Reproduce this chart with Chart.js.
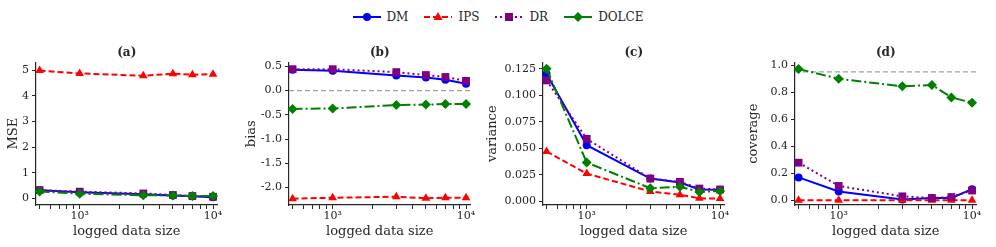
<!DOCTYPE html>
<html>
<head>
<meta charset="utf-8">
<script src="https://cdn.jsdelivr.net/npm/chart.js@4.4.0/dist/chart.umd.min.js"></script>
<style>
    body {
        margin: 0;
        width: 996px;
        height: 247px;
        overflow: hidden;
        background: #fff;
        position: relative;
        font-family: 'DejaVu Serif', serif;
    }
    .panel { position: absolute; top: 40px; }
    #legend {
        position: absolute;
        top: 9px;
        left: 0;
        width: 996px;
        display: flex;
        justify-content: center;
        font-size: 12px;
        line-height: 16px;
        color: #262626;
    }
    #legend .item { display: flex; align-items: center; margin: 0 8px; }
    #legend svg { margin-right: 6px; }
</style>
</head>
<body>
<div id="legend"></div>
<canvas id="chartA" class="panel"></canvas>
<canvas id="chartB" class="panel"></canvas>
<canvas id="chartC" class="panel"></canvas>
<canvas id="chartD" class="panel"></canvas>
<script>
// logged data sizes (x)
const sizes = [500, 1000, 3000, 5000, 7000, 10000];
const methods = ['DM', 'IPS', 'DR', 'DOLCE'];

// (a) MSE
const mseDM = [0.32, 0.25, 0.17, 0.12, 0.09, 0.05];
const mseIPS = [4.98, 4.87, 4.78, 4.86, 4.82, 4.84];
const mseDR = [0.33, 0.27, 0.20, 0.14, 0.10, 0.07];
const mseDOLCE = [0.28, 0.19, 0.13, 0.12, 0.10, 0.10];

// (b) bias
const biasDM = [0.43, 0.41, 0.31, 0.27, 0.22, 0.14];
const biasIPS = [-2.23, -2.21, -2.19, -2.22, -2.21, -2.21];
const biasDR = [0.44, 0.44, 0.38, 0.32, 0.28, 0.20];
const biasDOLCE = [-0.38, -0.37, -0.30, -0.29, -0.28, -0.28];

// (c) variance
const varDM = [0.120, 0.053, 0.0216, 0.0179, 0.0113, 0.0110];
const varIPS = [0.047, 0.0263, 0.0094, 0.0063, 0.0030, 0.0028];
const varDR = [0.114, 0.059, 0.0216, 0.0185, 0.0122, 0.0113];
const varDOLCE = [0.125, 0.0367, 0.0125, 0.0138, 0.0090, 0.0100];

// (d) coverage
const covDM = [0.169, 0.065, 0.005, 0.017, 0.017, 0.082];
const covIPS = [0, 0, 0, 0, 0, 0];
const covDR = [0.278, 0.106, 0.029, 0.017, 0.024, 0.072];
const covDOLCE = [0.971, 0.899, 0.843, 0.853, 0.761, 0.722];

// tick values / labels
const mseTicks = [0, 1, 2, 3, 4, 5];
const biasTicks = [-2.0, -1.5, -1.0, -0.5, 0.0, 0.5];
const varTicks = [0, 0.025, 0.05, 0.075, 0.1, 0.125];
const covTicks = [0, 0.2, 0.4, 0.6, 0.8, 1.0];
const xMajorTicks = [1000, 10000];
const xMajorLabels = ['10³', '10⁴'];
const xMinorTicks = [500, 600, 700, 800, 900, 2000, 3000, 4000, 5000, 6000, 7000, 8000, 9000];

const FONT = "'DejaVu Serif', serif";
const INK = '#262626';

const styles = [
    { color: '#0000ff', dash: [], point: 'circle', radius: 4 },
    { color: '#ff0000', dash: [6, 3], point: 'triangle', radius: 5 },
    { color: '#800080', dash: [2, 3], point: 'rect', radius: 5.5 },
    { color: '#008000', dash: [10, 3, 2, 3], point: 'rectRot', radius: 5 }
];

const panels = [
    { id: 'chartA', title: '(a)', label: 'MSE', series: [mseDM, mseIPS, mseDR, mseDOLCE],
      ticks: mseTicks, dec: 0, min: -0.25, max: 5.3, ref: null, left: 36, yw: 30 },
    { id: 'chartB', title: '(b)', label: 'bias', series: [biasDM, biasIPS, biasDR, biasDOLCE],
      ticks: biasTicks, dec: 1, min: -2.36, max: 0.58, ref: 0, left: 289, yw: 45 },
    { id: 'chartC', title: '(c)', label: 'variance', series: [varDM, varIPS, varDR, varDOLCE],
      ticks: varTicks, dec: 3, min: -0.0033, max: 0.131, ref: null, left: 543, yw: 58 },
    { id: 'chartD', title: '(d)', label: 'coverage', series: [covDM, covIPS, covDR, covDOLCE],
      ticks: covTicks, dec: 1, min: -0.035, max: 1.02, ref: 0.95, left: 795, yw: 49 }
];

const PLOT_W = 187;
const PANEL_H = 207;

// dashed gray reference line
const refLinePlugin = {
    id: 'refLine',
    beforeDatasetsDraw(chart, args, opts) {
        if (opts.value === null || opts.value === undefined) return;
        const { ctx, chartArea, scales } = chart;
        const y = scales.y.getPixelForValue(opts.value);
        ctx.save();
        ctx.strokeStyle = '#a0a0a0';
        ctx.lineWidth = 1.2;
        ctx.setLineDash([5, 3]);
        ctx.beginPath();
        ctx.moveTo(chartArea.left, y);
        ctx.lineTo(chartArea.right, y);
        ctx.stroke();
        ctx.restore();
    }
};

function buildLegend() {
    const legend = document.getElementById('legend');
    methods.forEach((name, i) => {
        const s = styles[i];
        const item = document.createElement('span');
        item.className = 'item';
        const cx = 14, cy = 8;
        let marker;
        if (s.point === 'circle') {
            marker = `<circle cx="${cx}" cy="${cy}" r="4" fill="${s.color}"/>`;
        } else if (s.point === 'triangle') {
            marker = `<polygon points="${cx},${cy - 5} ${cx + 4.5},${cy + 3} ${cx - 4.5},${cy + 3}" fill="${s.color}"/>`;
        } else if (s.point === 'rect') {
            marker = `<rect x="${cx - 4}" y="${cy - 4}" width="8" height="8" fill="${s.color}"/>`;
        } else {
            marker = `<polygon points="${cx},${cy - 5} ${cx + 5},${cy} ${cx},${cy + 5} ${cx - 5},${cy}" fill="${s.color}"/>`;
        }
        item.innerHTML =
            `<svg width="28" height="16"><line x1="0" y1="${cy}" x2="28" y2="${cy}" stroke="${s.color}" stroke-width="2" stroke-dasharray="${s.dash.join(' ')}"/>${marker}</svg><span>${name}</span>`;
        legend.appendChild(item);
    });
}

function createPanel(p) {
    const canvas = document.getElementById(p.id);
    canvas.width = p.yw + PLOT_W;
    canvas.height = PANEL_H;
    canvas.style.left = (p.left - p.yw) + 'px';

    const datasets = p.series.map((vals, i) => ({
        label: methods[i],
        data: sizes.map((x, j) => ({ x: x, y: vals[j] })),
        borderColor: styles[i].color,
        backgroundColor: styles[i].color,
        borderWidth: 2,
        borderDash: styles[i].dash,
        pointStyle: styles[i].point,
        pointRadius: styles[i].radius,
        pointBorderWidth: 0,
        tension: 0,
        clip: false,
        order: 3 - i
    }));

    return new Chart(canvas.getContext('2d'), {
        type: 'line',
        data: { datasets },
        options: {
            responsive: false,
            animation: false,
            devicePixelRatio: 1,
            layout: { padding: 0 },
            plugins: {
                legend: { display: false },
                tooltip: { enabled: false },
                title: {
                    display: true,
                    text: p.title,
                    fullSize: false,
                    color: INK,
                    font: { family: FONT, size: 12, weight: 'bold' },
                    padding: { top: 6, bottom: 2 }
                },
                refLine: { value: p.ref }
            },
            scales: {
                x: {
                    type: 'logarithmic',
                    min: 470,
                    max: 10800,
                    afterBuildTicks: scale => {
                        scale.ticks = xMinorTicks.concat(xMajorTicks)
                            .sort((a, b) => a - b)
                            .map(v => ({ value: v }));
                    },
                    afterFit: scale => {
                        scale.height = 42;
                        scale.paddingLeft = 0;
                        scale.paddingRight = 0;
                    },
                    ticks: {
                        autoSkip: false,
                        maxRotation: 0,
                        padding: 1,
                        color: INK,
                        font: { family: FONT, size: 11 },
                        callback: value => {
                            const k = xMajorTicks.indexOf(value);
                            return k >= 0 ? xMajorLabels[k] : '';
                        }
                    },
                    grid: {
                        drawOnChartArea: false,
                        drawTicks: true,
                        tickLength: 4,
                        tickColor: INK,
                        tickWidth: 1
                    },
                    border: { display: true, color: INK, width: 1.2 },
                    title: {
                        display: true,
                        text: 'logged data size',
                        color: INK,
                        font: { family: FONT, size: 13 },
                        padding: { top: 0, bottom: 8 }
                    }
                },
                y: {
                    type: 'linear',
                    min: p.min,
                    max: p.max,
                    afterBuildTicks: scale => {
                        scale.ticks = p.ticks.map(v => ({ value: v }));
                    },
                    afterFit: scale => {
                        scale.width = p.yw;
                        scale.paddingTop = 0;
                        scale.paddingBottom = 0;
                    },
                    ticks: {
                        padding: 3,
                        color: INK,
                        font: { family: FONT, size: 11 },
                        callback: value => value.toFixed(p.dec)
                    },
                    grid: {
                        drawOnChartArea: false,
                        drawTicks: true,
                        tickLength: 4,
                        tickColor: INK,
                        tickWidth: 1
                    },
                    border: { display: true, color: INK, width: 1.2 },
                    title: {
                        display: true,
                        text: p.label,
                        color: INK,
                        font: { family: FONT, size: 13 },
                        padding: { top: 0, bottom: 0 }
                    }
                }
            }
        },
        plugins: [refLinePlugin]
    });
}

buildLegend();
panels.forEach(createPanel);
</script>
</body>
</html>
